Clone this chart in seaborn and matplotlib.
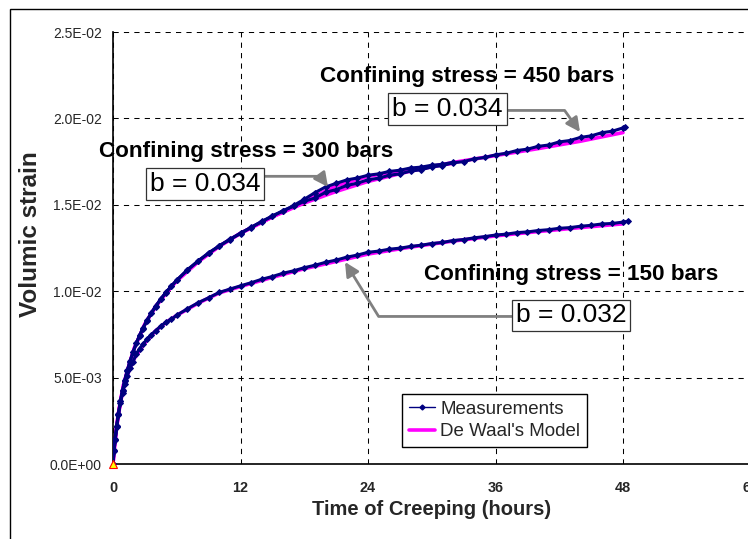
import numpy as np
import pandas as pd
import matplotlib
matplotlib.use("Agg")
import matplotlib.pyplot as plt
import seaborn as sns
from matplotlib.lines import Line2D
from matplotlib.patches import Rectangle
from matplotlib.ticker import FuncFormatter

# ---------------- data ----------------
t_450 = [0, 0.1, 0.2, 0.35, 0.5, 0.7, 0.9, 1.1, 1.35, 1.6, 1.9, 2.2, 2.5, 2.8, 3.2, 3.6, 4.0,
         4.5, 5.0, 5.5, 6, 7, 8, 9, 10, 11, 12, 13, 14, 15, 16, 17, 18, 19, 20, 21, 22, 23, 24,
         25, 26, 27, 28, 29, 30, 31, 32, 33, 34, 35, 36, 37, 38, 39, 40, 41, 42, 43, 44, 45,
         46, 47, 48, 48.2]
strain_450 = [0, 0.00075, 0.00142, 0.00218, 0.00290, 0.00362, 0.00428, 0.00480, 0.00543,
              0.00592, 0.00651, 0.00698, 0.00745, 0.00781, 0.00832, 0.00871, 0.00913, 0.00953,
              0.00996, 0.01028, 0.01065, 0.01121, 0.01176, 0.01219, 0.01264, 0.01298, 0.01337,
              0.01368, 0.01405, 0.01433, 0.01467, 0.01491, 0.01520, 0.01539, 0.01572, 0.01588,
              0.01612, 0.01625, 0.01645, 0.01654, 0.01671, 0.01679, 0.01695, 0.01703, 0.01719,
              0.01727, 0.01743, 0.01750, 0.01766, 0.01774, 0.01789, 0.01798, 0.01814, 0.01822,
              0.01838, 0.01846, 0.01864, 0.01872, 0.01890, 0.01899, 0.01917, 0.01926, 0.01945,
              0.01950]

t_300 = [0, 0.1, 0.2, 0.35, 0.5, 0.7, 0.9, 1.1, 1.35, 1.6, 1.9, 2.2, 2.5, 2.8, 3.2, 3.6, 4.0,
         4.5, 5.0, 5.5, 6, 7, 8, 9, 10, 11, 12, 13, 14, 15, 16, 17, 18, 19, 20, 21, 22, 23, 24,
         25, 26, 27, 28, 29, 30, 31, 32]
strain_300 = [0, 0.00078, 0.00139, 0.00221, 0.00287, 0.00365, 0.00425, 0.00484, 0.00540,
              0.00596, 0.00648, 0.00701, 0.00742, 0.00785, 0.00829, 0.00875, 0.00909, 0.00957,
              0.00992, 0.01032, 0.01062, 0.01125, 0.01172, 0.01223, 0.01260, 0.01302, 0.01333,
              0.01371, 0.01401, 0.01437, 0.01463, 0.01496, 0.01532, 0.01570, 0.01603, 0.01624,
              0.01644, 0.01655, 0.01671, 0.01679, 0.01693, 0.01700, 0.01713, 0.01718, 0.01729,
              0.01734, 0.01746]

t_150 = [0, 0.1, 0.2, 0.35, 0.5, 0.7, 0.9, 1.1, 1.35, 1.6, 1.9, 2.2, 2.5, 2.8, 3.2, 3.6, 4.0,
         4.5, 5.0, 5.5, 6, 7, 8, 9, 10, 11, 12, 13, 14, 15, 16, 17, 18, 19, 20, 21, 22, 23, 24,
         25, 26, 27, 28, 29, 30, 31, 32, 33, 34, 35, 36, 37, 38, 39, 40, 41, 42, 43, 44, 45,
         46, 47, 48, 48.5]
strain_150 = [0, 0.00080, 0.00138, 0.00212, 0.00282, 0.00352, 0.00413, 0.00462, 0.00512,
              0.00553, 0.00593, 0.00638, 0.00668, 0.00692, 0.00722, 0.00748, 0.00771, 0.00798,
              0.00821, 0.00838, 0.00861, 0.00898, 0.00933, 0.00962, 0.00993, 0.01012, 0.01031,
              0.01049, 0.01069, 0.01085, 0.01104, 0.01118, 0.01136, 0.01150, 0.01167, 0.01180,
              0.01197, 0.01209, 0.01225, 0.01232, 0.01243, 0.01249, 0.01259, 0.01266, 0.01276,
              0.01282, 0.01293, 0.01299, 0.01309, 0.01316, 0.01325, 0.01330, 0.01339, 0.01343,
              0.01351, 0.01356, 0.01364, 0.01368, 0.01376, 0.01381, 0.01389, 0.01392, 0.01400,
              0.01405]

model_t = [0, 0.05, 0.1, 0.2, 0.35, 0.5, 0.75, 1, 1.5, 2, 3, 4, 5, 6, 8, 10, 12, 15, 18, 21,
           24, 28, 32, 36, 40, 44, 48]
model_450 = [0, 0.0004, 0.00076, 0.0014, 0.0022, 0.0029, 0.0038, 0.0046, 0.0057, 0.0067,
             0.0081, 0.0091, 0.0099, 0.0106, 0.0117, 0.0126, 0.01335, 0.0143, 0.0151, 0.01577,
             0.01635, 0.01695, 0.01745, 0.01785, 0.01825, 0.01868, 0.01918]
model_300_t = [0, 0.05, 0.1, 0.2, 0.35, 0.5, 0.75, 1, 1.5, 2, 3, 4, 5, 6, 8, 10, 12, 15, 18,
               21, 24, 28, 32]
model_300 = [0, 0.0004, 0.00076, 0.0014, 0.0022, 0.0029, 0.0038, 0.0046, 0.0057, 0.0067,
             0.0081, 0.0091, 0.0099, 0.0106, 0.0117, 0.0126, 0.01335, 0.0143, 0.0152, 0.0161,
             0.01665, 0.01705, 0.0174]
model_150 = [0, 0.0004, 0.0008, 0.0014, 0.0021, 0.0028, 0.0037, 0.0044, 0.0054, 0.0061,
             0.0070, 0.0077, 0.0082, 0.0086, 0.0093, 0.0099, 0.01027, 0.0108, 0.0113, 0.01172,
             0.01215, 0.01255, 0.01290, 0.0132, 0.01345, 0.01368, 0.0139]

origin_t = [0]
origin_strain = [0]

x_ticks = [0, 12, 24, 36, 48, 60]
y_ticks = [0, 0.005, 0.010, 0.015, 0.020, 0.025]

legend_labels = ["Measurements", "De Waal's Model"]
stress_labels = ["Confining stress = 450 bars", "Confining stress = 300 bars",
                 "Confining stress = 150 bars"]
b_labels = ["b = 0.034", "b = 0.034", "b = 0.032"]

# ---------------- build tidy frames ----------------
def frame(t, s, name):
    return pd.DataFrame({"hours": t, "strain": s, "series": name})

meas = pd.concat([frame(t_450, strain_450, "450"), frame(t_300, strain_300, "300"),
                  frame(t_150, strain_150, "150")], ignore_index=True)
model = pd.concat([frame(model_t, model_450, "450"), frame(model_300_t, model_300, "300"),
                   frame(model_t, model_150, "150")], ignore_index=True)

# ---------------- style ----------------
sns.set_style("white")
plt.rcParams["font.family"] = ["Liberation Sans", "DejaVu Sans"]

W, H = 748, 539
fig = plt.figure(figsize=(W / 100, H / 100), dpi=100)
ax = fig.add_axes([113 / W, 75 / H, 637.5 / W, 432 / H])

NAVY = "#000080"
MAGENTA = "#FF00FF"
GRAY = "#808080"

for name in ["450", "300", "150"]:
    sub = model[model.series == name]
    sns.lineplot(data=sub, x="hours", y="strain", ax=ax, color=MAGENTA, lw=2.6,
                 estimator=None, sort=False, legend=False, zorder=2)
for name in ["450", "300", "150"]:
    sub = meas[meas.series == name]
    sns.lineplot(data=sub, x="hours", y="strain", ax=ax, color=NAVY, lw=2.2,
                 marker="D", markersize=3.0, markeredgecolor=NAVY, markerfacecolor=NAVY,
                 estimator=None, sort=False, legend=False, zorder=3)

ax.plot(origin_t, origin_strain, marker="^", color="#FFFF00", markeredgecolor="#FF0000",
        markersize=6, markeredgewidth=0.8, linestyle="none", zorder=5, clip_on=False)

ax.set_xlim(0, 60)
ax.set_ylim(0, 0.025)
ax.set_xticks(x_ticks)
ax.set_yticks(y_ticks)
ax.yaxis.set_major_formatter(FuncFormatter(lambda v, p: f"{v:.1E}"))
ax.grid(True, color="black", linestyle=(0, (5, 5)), linewidth=0.75)
ax.set_axisbelow(True)

for sp in ["top", "right"]:
    ax.spines[sp].set_visible(False)
for sp in ["left", "bottom"]:
    ax.spines[sp].set_color("black")
    ax.spines[sp].set_linewidth(1.2)

ax.tick_params(axis="both", direction="inout", length=6, width=1, color="black")
ax.tick_params(axis="y", labelsize=10, pad=5)
ax.tick_params(axis="x", labelsize=10.4, pad=9)
for lab in ax.get_xticklabels():
    lab.set_fontweight("bold")

ax.set_xlabel("Time of Creeping (hours)", fontsize=14.5, fontweight="bold", labelpad=4)
ax.set_ylabel("Volumic strain", fontsize=17.5, fontweight="bold")
ax.yaxis.set_label_coords(-0.112, 0.532)

# ---------------- annotations ----------------
def px2data(px, py):
    return (px - 113) / 10.625, (464 - py) * 0.005 / 86.4

text_pos = [(467.5, 82.3), (246, 156.7), (571.5, 280)]
for lab, (px, py) in zip(stress_labels, text_pos):
    x, y = px2data(px, py)
    ax.text(x, y, lab, ha="center", va="baseline", fontsize=16.2, fontweight="bold",
            color="black", zorder=6)

box_pos = [(447.5, 109), (205, 184), (571, 315.5)]
heads = [(580, 132), (328, 187), (345, 262)]
relpos = [(1.0, 0.44), (1.0, 0.82), (0.0, 0.46)]
angleB = [125.5, 126.3, -58.3]
for lab, bp, hp, rp, aB in zip(b_labels, box_pos, heads, relpos, angleB):
    ax.annotate(lab, xy=px2data(*hp), xytext=px2data(*bp), textcoords="data",
                ha="center", va="center", fontsize=19, color="black", zorder=7,
                bbox=dict(boxstyle="square,pad=0.15", fc="white", ec="#333333", lw=0.9),
                arrowprops=dict(arrowstyle="-|>,head_length=0.6,head_width=0.3",
                                color=GRAY, lw=2, mutation_scale=14, shrinkA=0, shrinkB=0,
                                relpos=rp, patchA=None,
                                connectionstyle=f"angle,angleA=0,angleB={aB},rad=0"))

# ---------------- legend ----------------
handles = [Line2D([0], [0], color=NAVY, lw=1, marker="D", markersize=2.5),
           Line2D([0], [0], color=MAGENTA, lw=2.6)]
leg = ax.legend(handles, legend_labels, loc="upper left", bbox_to_anchor=(0.4533, 0.162),
                fontsize=13.5, frameon=True, fancybox=False, edgecolor="black",
                handlelength=1.4, handletextpad=0.3, borderpad=0.35, labelspacing=0.3,
                borderaxespad=0)
leg.get_frame().set_linewidth(1.0)
leg.get_frame().set_alpha(1)
leg.set_zorder(8)

# figure border (cut off at right and bottom as in the reference)
fig.add_artist(Rectangle((10 / W, -0.05), 1.0, 1 - 9 / H + 0.05, transform=fig.transFigure,
                         fill=False, ec="black", lw=1.0))

fig.savefig("out.png", dpi=100)
